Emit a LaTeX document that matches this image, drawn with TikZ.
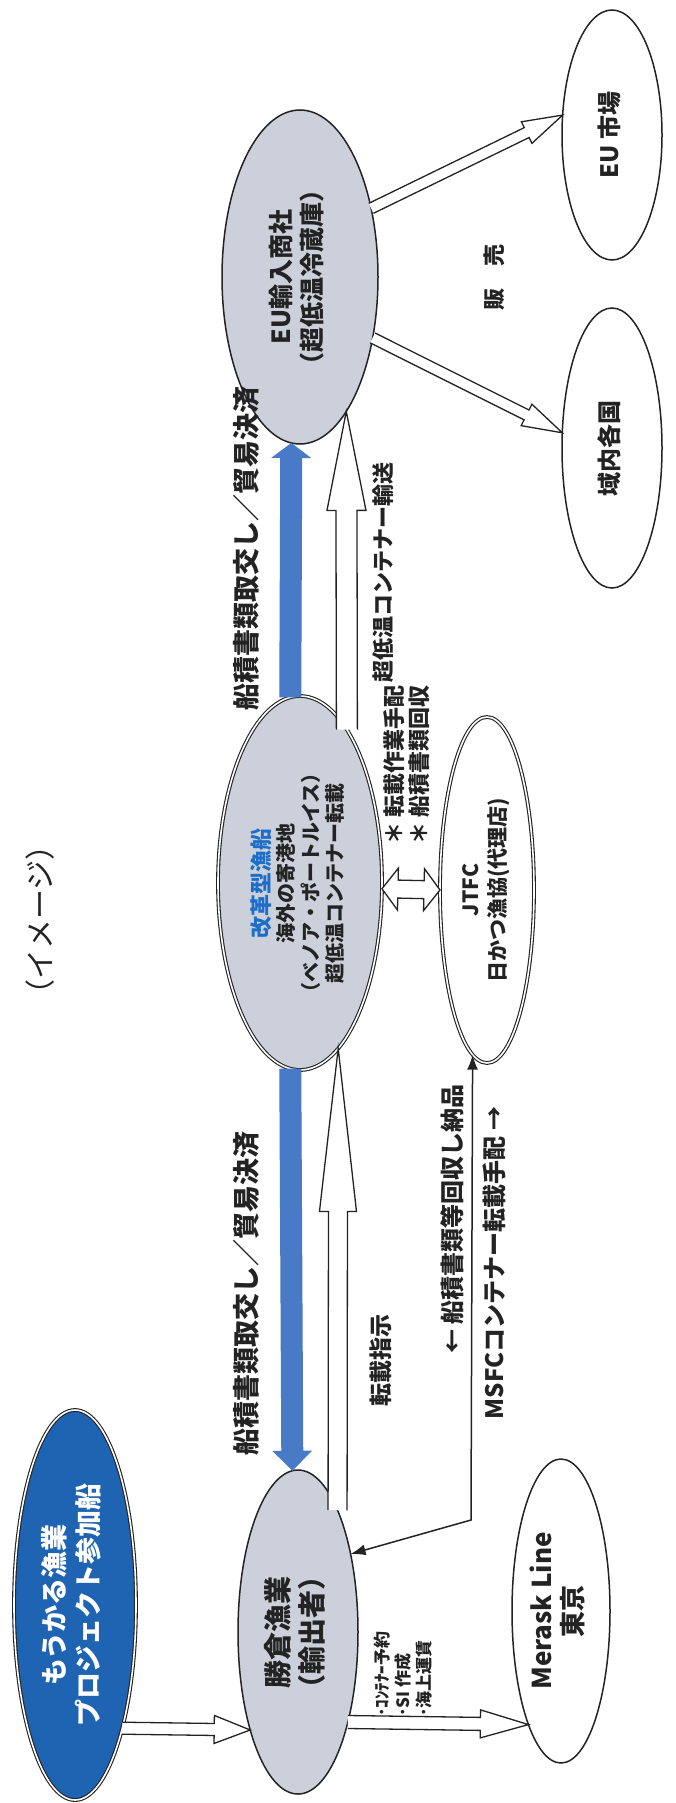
\documentclass[tikz,border=0pt]{standalone}
\usepackage{fontspec}
\setmainfont{Noto Sans CJK JP}
\usepackage{graphicx}
\usetikzlibrary{shapes.geometric,arrows.meta}
\definecolor{dblue}{RGB}{30,100,178}
\definecolor{ablue}{RGB}{72,122,198}
\definecolor{tblue}{RGB}{28,110,200}
\definecolor{lgray}{RGB}{203,208,218}
\definecolor{ink}{RGB}{35,35,35}
\newcommand\fsz[2]{\fontsize{#1}{#2}\selectfont}
\newcommand\tb[1]{\rotatebox{90}{\begin{tabular}{@{}c@{}}#1\end{tabular}}}
% block arrow: [opts]{start}{end}{shaft half}{head half}{head length}
\newcommand\blockarr[6][]{%
  \path (#2) coordinate (bas) (#3) coordinate (bae);
  \pgfpointdiff{\pgfpointanchor{bas}{center}}{\pgfpointanchor{bae}{center}}%
  \pgfgetlastxy{\bdx}{\bdy}%
  \pgfmathsetmacro\bang{atan2(\bdy,\bdx)}%
  \pgfmathsetmacro\blen{veclen(\bdx,\bdy)}%
  \begin{scope}[shift={(bas)}, rotate=\bang]
    \draw[#1] (0,-#4) -- ({\blen-#6},-#4) -- ({\blen-#6},-#5) -- (\blen,0)
      -- ({\blen-#6},#5) -- ({\blen-#6},#4) -- (0,#4);
  \end{scope}}
\newcommand\dblockarr[6][]{%
  \path (#2) coordinate (bas) (#3) coordinate (bae);
  \pgfpointdiff{\pgfpointanchor{bas}{center}}{\pgfpointanchor{bae}{center}}%
  \pgfgetlastxy{\bdx}{\bdy}%
  \pgfmathsetmacro\bang{atan2(\bdy,\bdx)}%
  \pgfmathsetmacro\blen{veclen(\bdx,\bdy)}%
  \begin{scope}[shift={(bas)}, rotate=\bang]
    \draw[#1] (0,0) -- (#6,#5) -- (#6,#4) -- ({\blen-#6},#4) -- ({\blen-#6},#5)
      -- (\blen,0) -- ({\blen-#6},-#5) -- ({\blen-#6},-#4) -- (#6,-#4)
      -- (#6,-#5) -- cycle;
  \end{scope}}
\begin{document}
\begin{tikzpicture}[x=1pt,y=-1pt,line join=miter,
  ell/.style={ellipse, draw=ink, line width=1.5pt, inner sep=0pt, outer sep=0pt, text=ink},
  dbl/.style={double=white, double distance=1.6pt, line width=1.1pt},
  lbl/.style={rotate=90, inner sep=0pt, align=center, text=ink},
  barr/.style={draw=ink, line width=1.3pt, fill=white},
  bluearr/.style={fill=ablue, draw=none},
  thin/.style={draw=ink, line width=1.5pt, {Latex[length=15pt,width=11pt]}-{Latex[length=15pt,width=11pt]}}]
\useasboundingbox (0,0) rectangle (675,1803);
\fill[white] (0,0) rectangle (675,1803);

% ellipses
\node[ell, dbl, fill=dblue, text=white, font=\bfseries\fsz{27}{34},
  minimum width=122pt, minimum height=390pt] (mouk) at (75,1605)
  {\tb{もうかる漁業\\プロジェクト参加船}};
\node[ell, fill=lgray, font=\bfseries\fsz{28}{32},
  minimum width=120pt, minimum height=324pt] (katsu) at (298,1632)
  {\tb{勝倉漁業\\（輸出者）}};
\node[ell, fill=white, font=\bfseries\fsz{26}{30},
  minimum width=98pt, minimum height=304pt] (merask) at (561,1611)
  {\tb{Merask Line\\東京}};
\node[ell, dbl, fill=lgray, font=\bfseries\fsz{20}{24},
  minimum width=164pt, minimum height=374pt] (mid) at (300,883)
  {\tb{{\color{tblue}\fsz{22}{24}改革型漁船}\\海外の寄港地\\（ベノア・ポートルイス）\\超低温コンテナー転載}};
\node[ell, dbl, fill=white, font=\bfseries\fsz{21}{27},
  minimum width=94pt, minimum height=346pt] (jtfc) at (487,890)
  {\tb{JTFC\\日かつ漁協(代理店)}};
\node[ell, fill=lgray, font=\bfseries\fsz{25}{30},
  minimum width=156pt, minimum height=334pt] (eu) at (300,277)
  {\tb{EU輸入商社\\（超低温冷蔵庫）}};
\node[ell, fill=white, font=\bfseries\fsz{24}{30},
  minimum width=100pt, minimum height=250pt] (eum) at (612,135)
  {\tb{EU 市場}};
\node[ell, fill=white, font=\bfseries\fsz{24}{30},
  minimum width=100pt, minimum height=280pt] (iki) at (612,448)
  {\tb{域内各国}};

% labels
\node[lbl, font=\fsz{30}{36}] (title) at (40,920) {（イメージ）};
\node[lbl, font=\bfseries\fsz{27}{32}] (lab1) at (246,548) {船積書類取交し／貿易決済};
\node[lbl, font=\bfseries\fsz{27}{32}] (lab2) at (246,1293) {船積書類取交し／貿易決済};
\node[lbl, font=\bfseries\fsz{22}{28}] (lab3) at (383,572) {超低温コンテナー輸送};
\node[lbl, font=\bfseries\fsz{23}{28}] (lab4) at (381,1360) {転載指示};
\node[lbl, font=\bfseries\fsz{22}{25}, align=left] (lab5) at (407,765) {＊ 転載作業手配\\＊ 船積書類回収};
\node[lbl, font=\bfseries\fsz{24}{30}] (lab6) at (452,1219) {← 船積書類等回収し納品};
\node[lbl, font=\bfseries\fsz{24}{30}] (lab7) at (494,1263) {MSFCコンテナー転載手配 →};
\node[lbl, font=\bfseries\fsz{22}{28}] (lab8) at (494,277) {販\hspace{1em}売};
\node[lbl, anchor=north west, align=left, font=\bfseries\fsz{17}{21}] (lab9) at (374,1717)
  {･ｺﾝﾃﾅｰ予約\\･SI 作成\\･海上運賃};

% block arrows
\blockarr[barr]{mouk.-69.2}{katsu.-116.3}{6}{14}{36}
\blockarr[barr]{katsu.-61.4}{merask.-106.5}{6.5}{14}{48}
\blockarr[barr]{katsu.72.4}{mid.-77.5}{9.5}{18.5}{163}
\blockarr[barr]{mid.73.9}{eu.-71.7}{10.5}{19.5}{99}
\blockarr[bluearr]{mid.93.1}{eu.-93.5}{11}{20}{15}
\blockarr[bluearr]{mid.-93.1}{katsu.92.9}{11}{20}{20}
\blockarr[barr]{eu.44.7}{eum.158}{5.5}{12}{40}
\blockarr[barr]{eu.-40}{iki.163.2}{5.5}{12}{40}
\dblockarr[barr]{mid.-4.9}{jtfc.180}{9}{21}{16}

% thin connector
\coordinate (bend) at (471,1520);
\draw[thin] (jtfc.-95.6) -- (bend) -- (katsu.56.9);
\end{tikzpicture}
\end{document}
